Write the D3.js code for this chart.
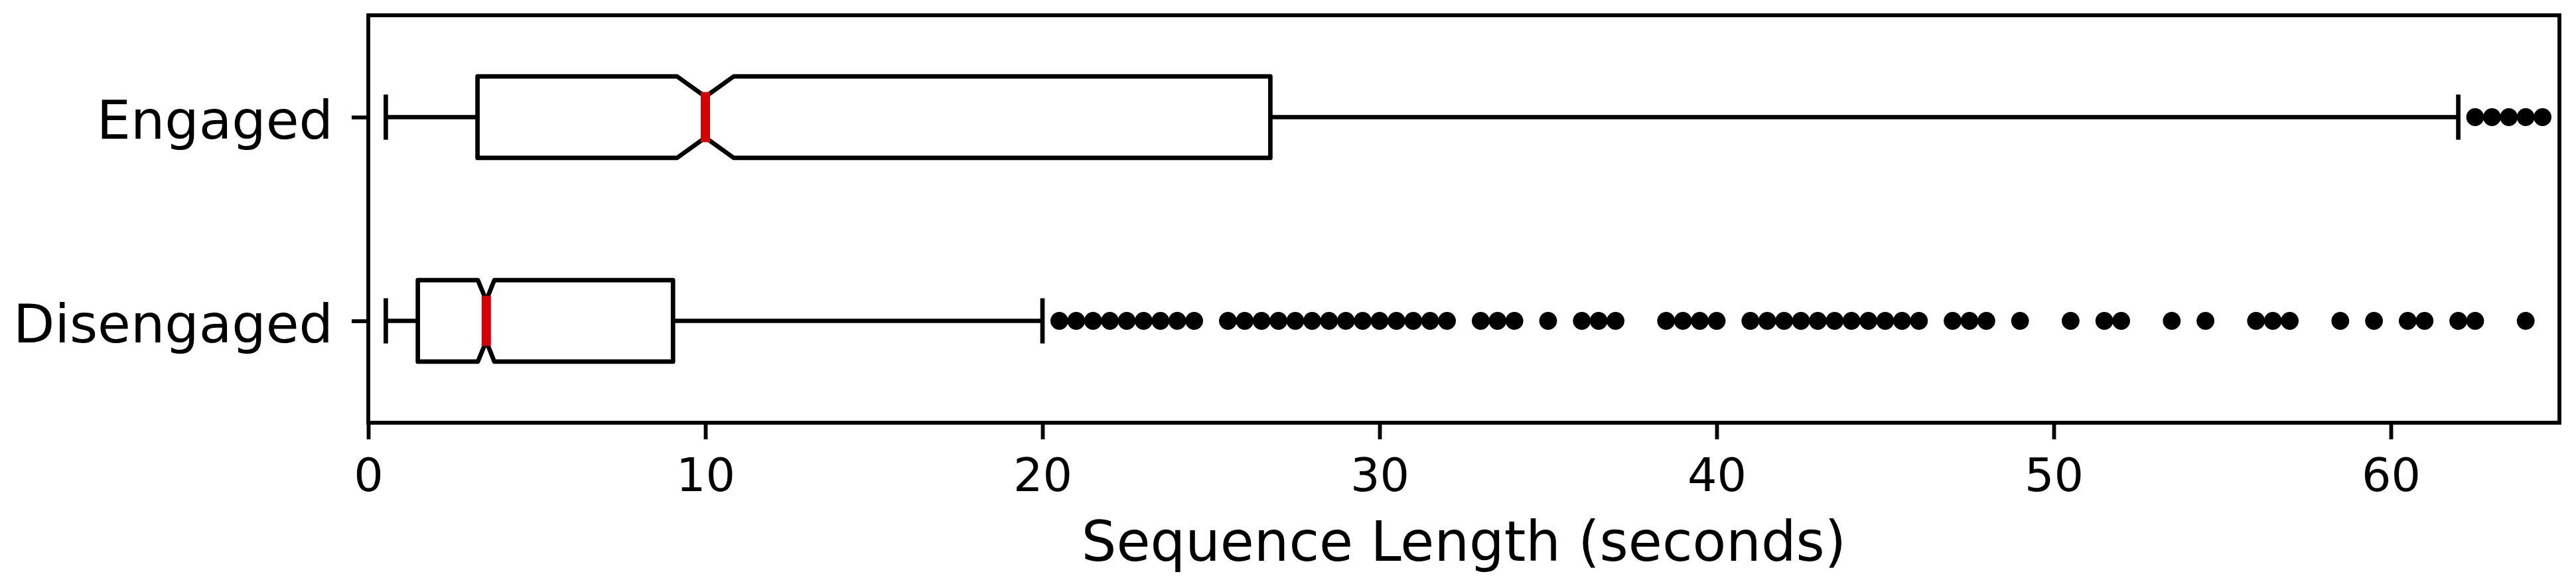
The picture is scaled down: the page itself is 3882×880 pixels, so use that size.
<!DOCTYPE html>
<html><head><meta charset="utf-8">
<script src="https://cdn.jsdelivr.net/npm/d3@7"></script>
<style>body{margin:0;background:#fff} svg{display:block} text{font-family:"DejaVu Sans",sans-serif;fill:#000}</style>
</head><body><svg id="c" width="3882" height="880"></svg>
<script>
// ---- data ----
const categories = ["Disengaged", "Engaged"];
const positions = [1, 2];
const q1 = [1.47, 3.24];
const medians = [3.5, 10.0];
const q3 = [9.04, 26.76];
const whiskerLow = [0.52, 0.52];
const whiskerHigh = [20.0, 62.0];
const notchLow = [3.25, 9.16];
const notchHigh = [3.74, 10.84];
const outliersDisengaged = [20.5,21,21.5,22,22.5,23,23.5,24,24.5,
  25.5,26,26.5,27,27.5,28,28.5,29,29.5,30,30.5,31,31.5,32,
  33,33.5,34,35,36,36.5,37,38.5,39,39.5,40,
  41,41.5,42,42.5,43,43.5,44,44.5,45,45.5,46,
  47,47.5,48,49,50.5,51.5,52,53.5,54.5,56,56.5,57,58.5,59.5,60.5,61,62,62.5,64];
const outliersEngaged = [62.5, 63, 63.5, 64, 64.5];
const outliers = [outliersDisengaged, outliersEngaged];
const xTicks = [0, 10, 20, 30, 40, 50, 60];
const xDomain = [0, 65];
const yDomain = [0.5, 2.5];
const xLabel = "Sequence Length (seconds)";

// ---- layout ----
const L = 555, R = 3857, T = 23, B = 637;
const boxW = 0.4, capW = 0.2;
const svg = d3.select("#c");
const x = d3.scaleLinear().domain(xDomain).range([L, R]);
const y = d3.scaleLinear().domain(yDomain).range([B, T]);
const LW = 6.7, MLW = 14, SPW = 5.8;

const g = svg.append("g");

categories.forEach((c, i) => {
  const p = positions[i];
  // whiskers
  g.append("line").attr("x1", x(q1[i])).attr("x2", x(whiskerLow[i])).attr("y1", y(p)).attr("y2", y(p))
    .attr("stroke", "#000").attr("stroke-width", LW);
  g.append("line").attr("x1", x(q3[i])).attr("x2", x(whiskerHigh[i])).attr("y1", y(p)).attr("y2", y(p))
    .attr("stroke", "#000").attr("stroke-width", LW);
  // caps
  [whiskerLow[i], whiskerHigh[i]].forEach(v => {
    g.append("line").attr("x1", x(v)).attr("x2", x(v)).attr("y1", y(p - capW / 2)).attr("y2", y(p + capW / 2))
      .attr("stroke", "#000").attr("stroke-width", LW).attr("stroke-linecap", "square");
  });
  // notched box
  const hw = boxW / 2, nw = boxW / 4;
  const pts = [
    [q1[i], p - hw], [notchLow[i], p - hw], [medians[i], p - nw], [notchHigh[i], p - hw], [q3[i], p - hw],
    [q3[i], p + hw], [notchHigh[i], p + hw], [medians[i], p + nw], [notchLow[i], p + hw], [q1[i], p + hw]
  ];
  g.append("path").attr("d", d3.line().x(d => x(d[0])).y(d => y(d[1]))(pts) + "Z")
    .attr("fill", "none").attr("stroke", "#000").attr("stroke-width", LW).attr("stroke-linejoin", "round");
  // median
  g.append("line").attr("x1", x(medians[i])).attr("x2", x(medians[i]))
    .attr("y1", y(p - nw)).attr("y2", y(p + nw))
    .attr("stroke", "#d40000").attr("stroke-width", MLW).attr("stroke-linecap", "square");
  // fliers
  g.selectAll(null).data(outliers[i]).enter().append("circle")
    .attr("cx", d => x(d)).attr("cy", y(p)).attr("r", 13.4).attr("fill", "#000");
});

// frame
svg.append("rect").attr("x", L).attr("y", T).attr("width", R - L).attr("height", B - T)
  .attr("fill", "none").attr("stroke", "#000").attr("stroke-width", SPW);

// x axis
const xa = svg.append("g").attr("transform", `translate(0,${B})`)
  .call(d3.axisBottom(x).tickValues(xTicks).tickSize(25).tickFormat(d3.format("d")));
xa.select(".domain").remove();
xa.selectAll(".tick line").attr("stroke", "#000").attr("stroke-width", SPW);
xa.selectAll(".tick text").attr("y", 740 - B).attr("dy", 0).attr("font-size", 70)
  .style("font-family", "DejaVu Sans");

// y axis
const ya = svg.append("g").attr("transform", `translate(${L},0)`)
  .call(d3.axisLeft(y).tickValues(positions).tickSize(25).tickFormat((d, i) => categories[i]));
ya.select(".domain").remove();
ya.selectAll(".tick line").attr("stroke", "#000").attr("stroke-width", SPW);
ya.selectAll(".tick text").attr("x", 502 - L).attr("dy", 0).attr("y", 32).attr("font-size", 81)
  .style("font-family", "DejaVu Sans");

// x label
svg.append("text").attr("x", (L + R) / 2).attr("y", 845).attr("text-anchor", "middle")
  .attr("font-size", 83).text(xLabel);
</script></body></html>
